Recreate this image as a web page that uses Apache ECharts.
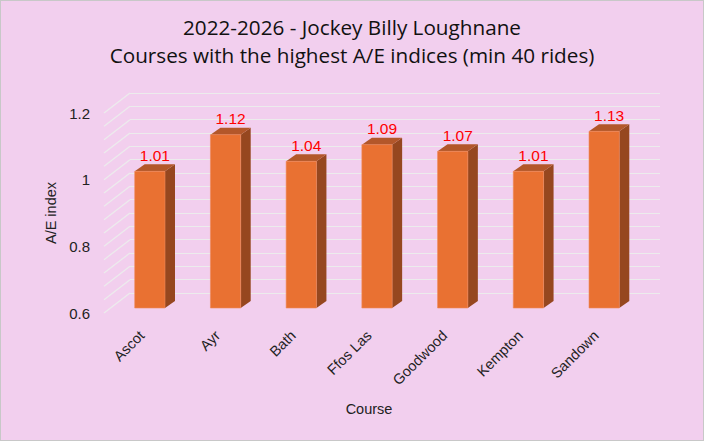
<!DOCTYPE html>
<html>
<head>
<meta charset="utf-8">
<script src="https://cdn.jsdelivr.net/npm/echarts@6/dist/echarts.min.js"></script>
<style>
  html, body { margin: 0; padding: 0; background: #F2CFEE; }
  #main { width: 704px; height: 441px; box-sizing: border-box; border: 1px solid #c8c8c8; }
</style>
</head>
<body>
<div id="main"></div>
<script>
// data
const courses = ['Ascot', 'Ayr', 'Bath', 'Ffos Las', 'Goodwood', 'Kempton', 'Sandown'];
const aeIndex = [1.01, 1.12, 1.04, 1.09, 1.07, 1.01, 1.13];
const gridValues = [0.6, 0.64, 0.68, 0.72, 0.76, 0.8, 0.84, 0.88, 0.92, 0.96, 1.0, 1.04, 1.08, 1.12, 1.16, 1.2];

const yMin = 0.6, yMax = 1.2;
const DEPTH_X = 26, DEPTH_Y = -20;   // front -> back wall
const BAR_SHIFT_X = 8, BAR_SHIFT_Y = -5;
const BAR_DX = 10, BAR_DY = -7;
const AXIS_FONT = 'Liberation Sans, Arial, sans-serif';

var chartDom = document.getElementById('main');
var myChart = echarts.init(chartDom, null, { renderer: 'svg' });
var option;

option = {
  backgroundColor: '#F2CFEE',
  animation: false,
  textStyle: { fontFamily: AXIS_FONT },
  title: {
    text: '2022-2026 - Jockey Billy Loughnane\nCourses with the highest A/E indices (min 40 rides)',
    left: 'center',
    top: 7,
    textStyle: {
      fontSize: 20.7, fontWeight: 'normal', color: '#111', lineHeight: 28,
      fontFamily: 'Open Sans, Noto Sans, sans-serif'
    }
  },
  grid: [
    { left: 103, right: 69, top: 112, bottom: 127 },   // front plane (labels, bars)
    { left: 129, right: 43, top: 92, bottom: 147 }     // back wall
  ],
  xAxis: [
    {
      type: 'category',
      gridIndex: 0,
      data: courses,
      axisLine: { show: false },
      axisTick: { show: false },
      axisLabel: { rotate: 45, margin: 20, fontSize: 14.5, color: '#222' },
      name: 'Course',
      nameLocation: 'middle',
      nameGap: 88,
      nameTextStyle: { fontSize: 14.5, color: '#222' }
    },
    {
      type: 'category',
      gridIndex: 1,
      data: courses,
      show: false
    }
  ],
  yAxis: [
    {
      type: 'value',
      gridIndex: 0,
      min: yMin,
      max: yMax,
      interval: 0.2,
      axisLine: { show: false },
      axisTick: { show: false },
      splitLine: { show: false },
      axisLabel: { margin: 14, fontSize: 15, color: '#222' },
      name: 'A/E index',
      nameLocation: 'middle',
      nameGap: 46,
      nameTextStyle: { fontSize: 14.5, color: '#222' }
    },
    {
      type: 'value',
      gridIndex: 1,
      min: yMin,
      max: yMax,
      interval: 0.04,
      axisLine: { show: false },
      axisTick: { show: false },
      axisLabel: { show: false },
      splitLine: { show: true, lineStyle: { color: '#ECECEC', width: 1.2 } }
    }
  ],
  series: [
    {
      // side-wall diagonals
      type: 'custom',
      xAxisIndex: 0,
      yAxisIndex: 0,
      silent: true,
      data: gridValues.map(v => [0, v]),
      renderItem: function (params, api) {
        const p = api.coord([0, api.value(1)]);
        const x = params.coordSys.x;
        return {
          type: 'line',
          shape: { x1: x, y1: p[1], x2: x + DEPTH_X, y2: p[1] + DEPTH_Y },
          style: { stroke: '#ECECEC', lineWidth: 1.2 }
        };
      },
      z: 1
    },
    {
      name: 'A/E index',
      type: 'custom',
      xAxisIndex: 0,
      yAxisIndex: 0,
      data: aeIndex.map((v, i) => [i, v]),
      renderItem: function (params, api) {
        const i = api.value(0), v = api.value(1);
        const base = api.coord([i, yMin]);
        const top = api.coord([i, v]);
        const w = api.size([1, 0])[0] * 0.4;
        const x0 = base[0] - w / 2 + BAR_SHIFT_X;
        const x1 = x0 + w;
        const yb = base[1] + BAR_SHIFT_Y;
        const yt = top[1] + BAR_SHIFT_Y;
        return {
          type: 'group',
          children: [
            {
              type: 'polygon',
              shape: { points: [[x1, yt], [x1 + BAR_DX, yt + BAR_DY], [x1 + BAR_DX, yb + BAR_DY], [x1, yb]] },
              style: { fill: '#96471F' }
            },
            {
              type: 'polygon',
              shape: { points: [[x0, yt], [x0 + BAR_DX, yt + BAR_DY], [x1 + BAR_DX, yt + BAR_DY], [x1, yt]] },
              style: { fill: '#B3572A' }
            },
            {
              type: 'rect',
              shape: { x: x0, y: yt, width: w, height: yb - yt },
              style: { fill: '#E97132', stroke: '#EE8A5A', lineWidth: 0.6 }
            },
            {
              type: 'text',
              style: {
                text: v.toFixed(2),
                x: (x0 + x1 + BAR_DX) / 2,
                y: yt + BAR_DY - 1,
                align: 'center',
                verticalAlign: 'bottom',
                fill: '#FF0000',
                fontSize: 15.5,
                fontFamily: AXIS_FONT
              }
            }
          ]
        };
      },
      z: 3
    }
  ]
};

myChart.setOption(option);
</script>
</body>
</html>
